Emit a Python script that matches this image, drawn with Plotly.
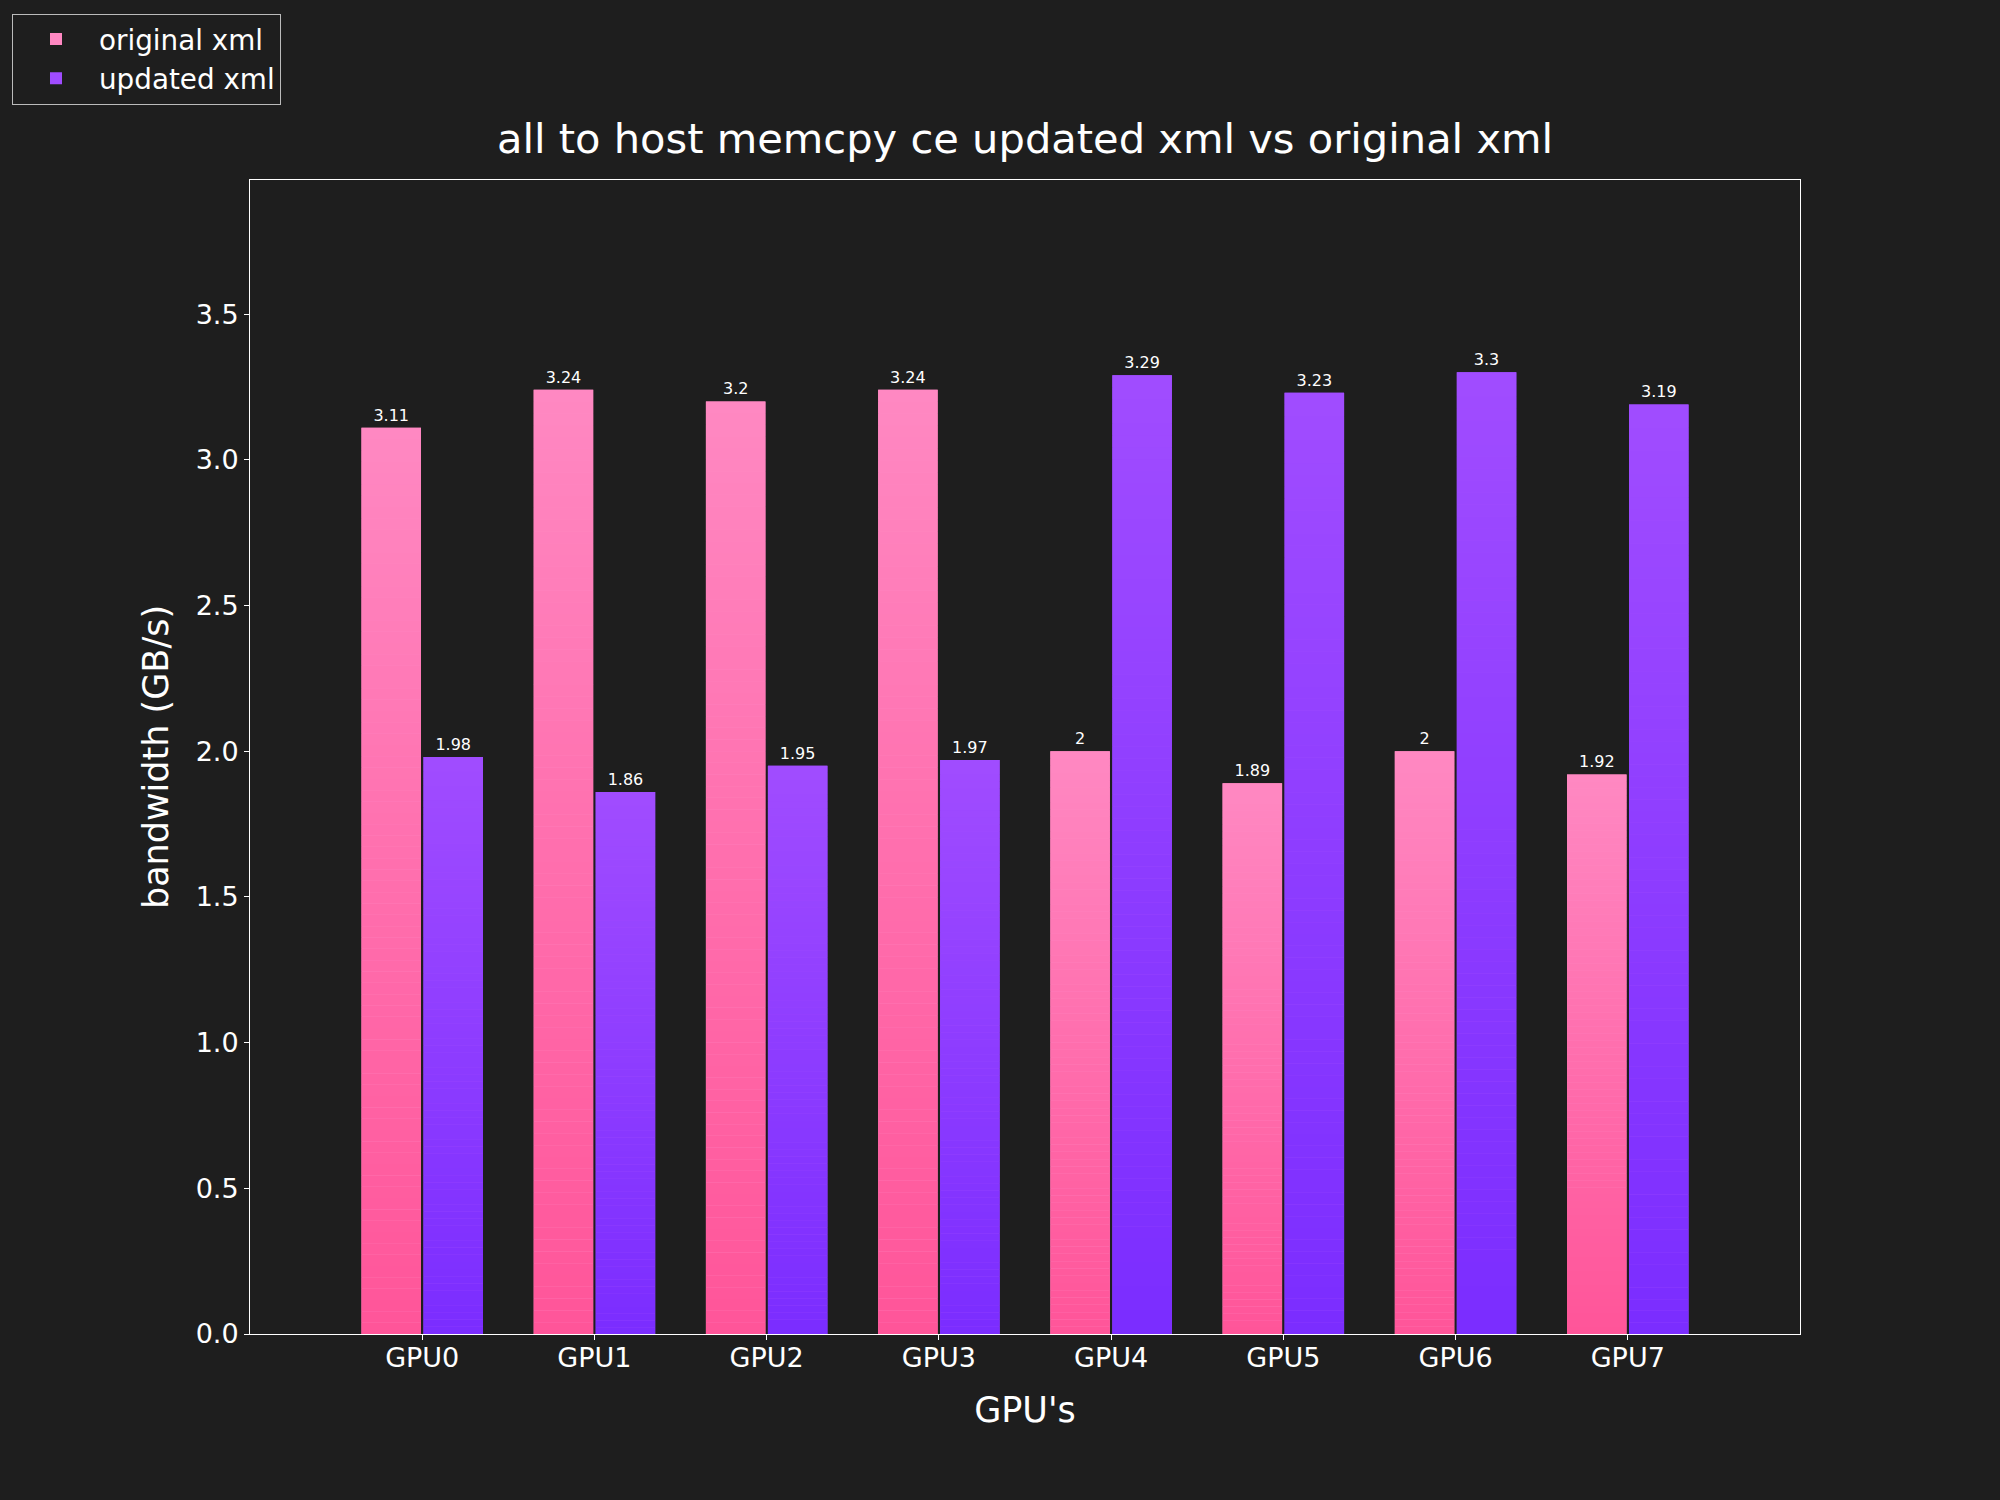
import plotly.graph_objects as go

gpus = ["GPU0", "GPU1", "GPU2", "GPU3", "GPU4", "GPU5", "GPU6", "GPU7"]
original_xml = [3.11, 3.24, 3.2, 3.24, 2.0, 1.89, 2.0, 1.92]
updated_xml = [1.98, 1.86, 1.95, 1.97, 3.29, 3.23, 3.3, 3.19]

BG = "#1e1e1e"
FONT = "DejaVu Sans"
N_SEG = 80

series = [
    ("original xml", original_xml, "orig", (255, 136, 194), (255, 85, 153)),
    ("updated xml", updated_xml, "upd", (160, 76, 255), (123, 45, 255)),
]


def lerp(c1, c2, t):
    return "rgb(%d,%d,%d)" % tuple(round(a + (b - a) * t) for a, b in zip(c1, c2))


fig = go.Figure()
for name, vals, grp, top, bot in series:
    # full bar: legend entry + value labels
    fig.add_trace(go.Bar(
        x=gpus, y=vals, name=name, offsetgroup=grp,
        marker=dict(color=lerp(top, top, 0), line=dict(width=0)),
        text=[f"{v:g}" for v in vals], textposition="outside",
        textfont=dict(size=16, color="white", family=FONT),
        cliponaxis=False, hoverinfo="x+y",
    ))
    # vertical gradient drawn as stacked slices of each bar
    for i in range(N_SEG):
        t = i / (N_SEG - 1)
        c = lerp(bot, top, t)
        fig.add_trace(go.Bar(
            x=gpus, y=[v / N_SEG for v in vals],
            base=[v * i / N_SEG for v in vals],
            offsetgroup=grp, showlegend=False, hoverinfo="skip",
            marker=dict(color=c, line=dict(width=0)),
        ))

fig.update_layout(
    width=2000, height=1500,
    paper_bgcolor=BG, plot_bgcolor=BG,
    font=dict(family=FONT, color="white", size=27),
    barmode="group", bargap=0.28, bargroupgap=0.04,
    margin=dict(l=250, r=200, t=180, b=166, autoexpand=False),
    title=dict(
        text="all to host memcpy ce updated xml vs original xml",
        x=0.5125, xanchor="center", y=1 - 138 / 1500, yanchor="middle",
        xref="container", yref="container",
        font=dict(size=41.6, color="white", family=FONT),
    ),
    legend=dict(
        x=0.006, y=0.991, xanchor="left", yanchor="top",
        xref="container", yref="container",
        bgcolor=BG, bordercolor="#bbbbbb", borderwidth=1,
        font=dict(size=27.8, color="white", family=FONT),
        traceorder="normal", itemwidth=76,
    ),
    xaxis=dict(
        range=[-1, 8], showgrid=False, zeroline=False,
        showline=True, mirror=True, linecolor="white", linewidth=1,
        ticks="outside", ticklen=5, tickcolor="white",
        ticklabelstandoff=-5,
        tickfont=dict(size=27, color="white", family=FONT),
        title=dict(text="GPU's", standoff=25,
                   font=dict(size=35, color="white", family=FONT)),
    ),
    yaxis=dict(
        range=[0, 3.96], dtick=0.5, tickformat=".1f",
        showgrid=False, zeroline=False,
        showline=True, mirror=True, linecolor="white", linewidth=1,
        ticks="outside", ticklen=5, tickcolor="white",
        tickfont=dict(size=27, color="white", family=FONT),
    ),
    annotations=[dict(
        text="bandwidth (GB/s)", textangle=-90,
        xref="paper", yref="paper", x=-0.0606, y=0.5,
        xanchor="center", yanchor="middle", showarrow=False,
        font=dict(size=35, color="white", family=FONT),
    )],
)

fig.write_html("out.html")
